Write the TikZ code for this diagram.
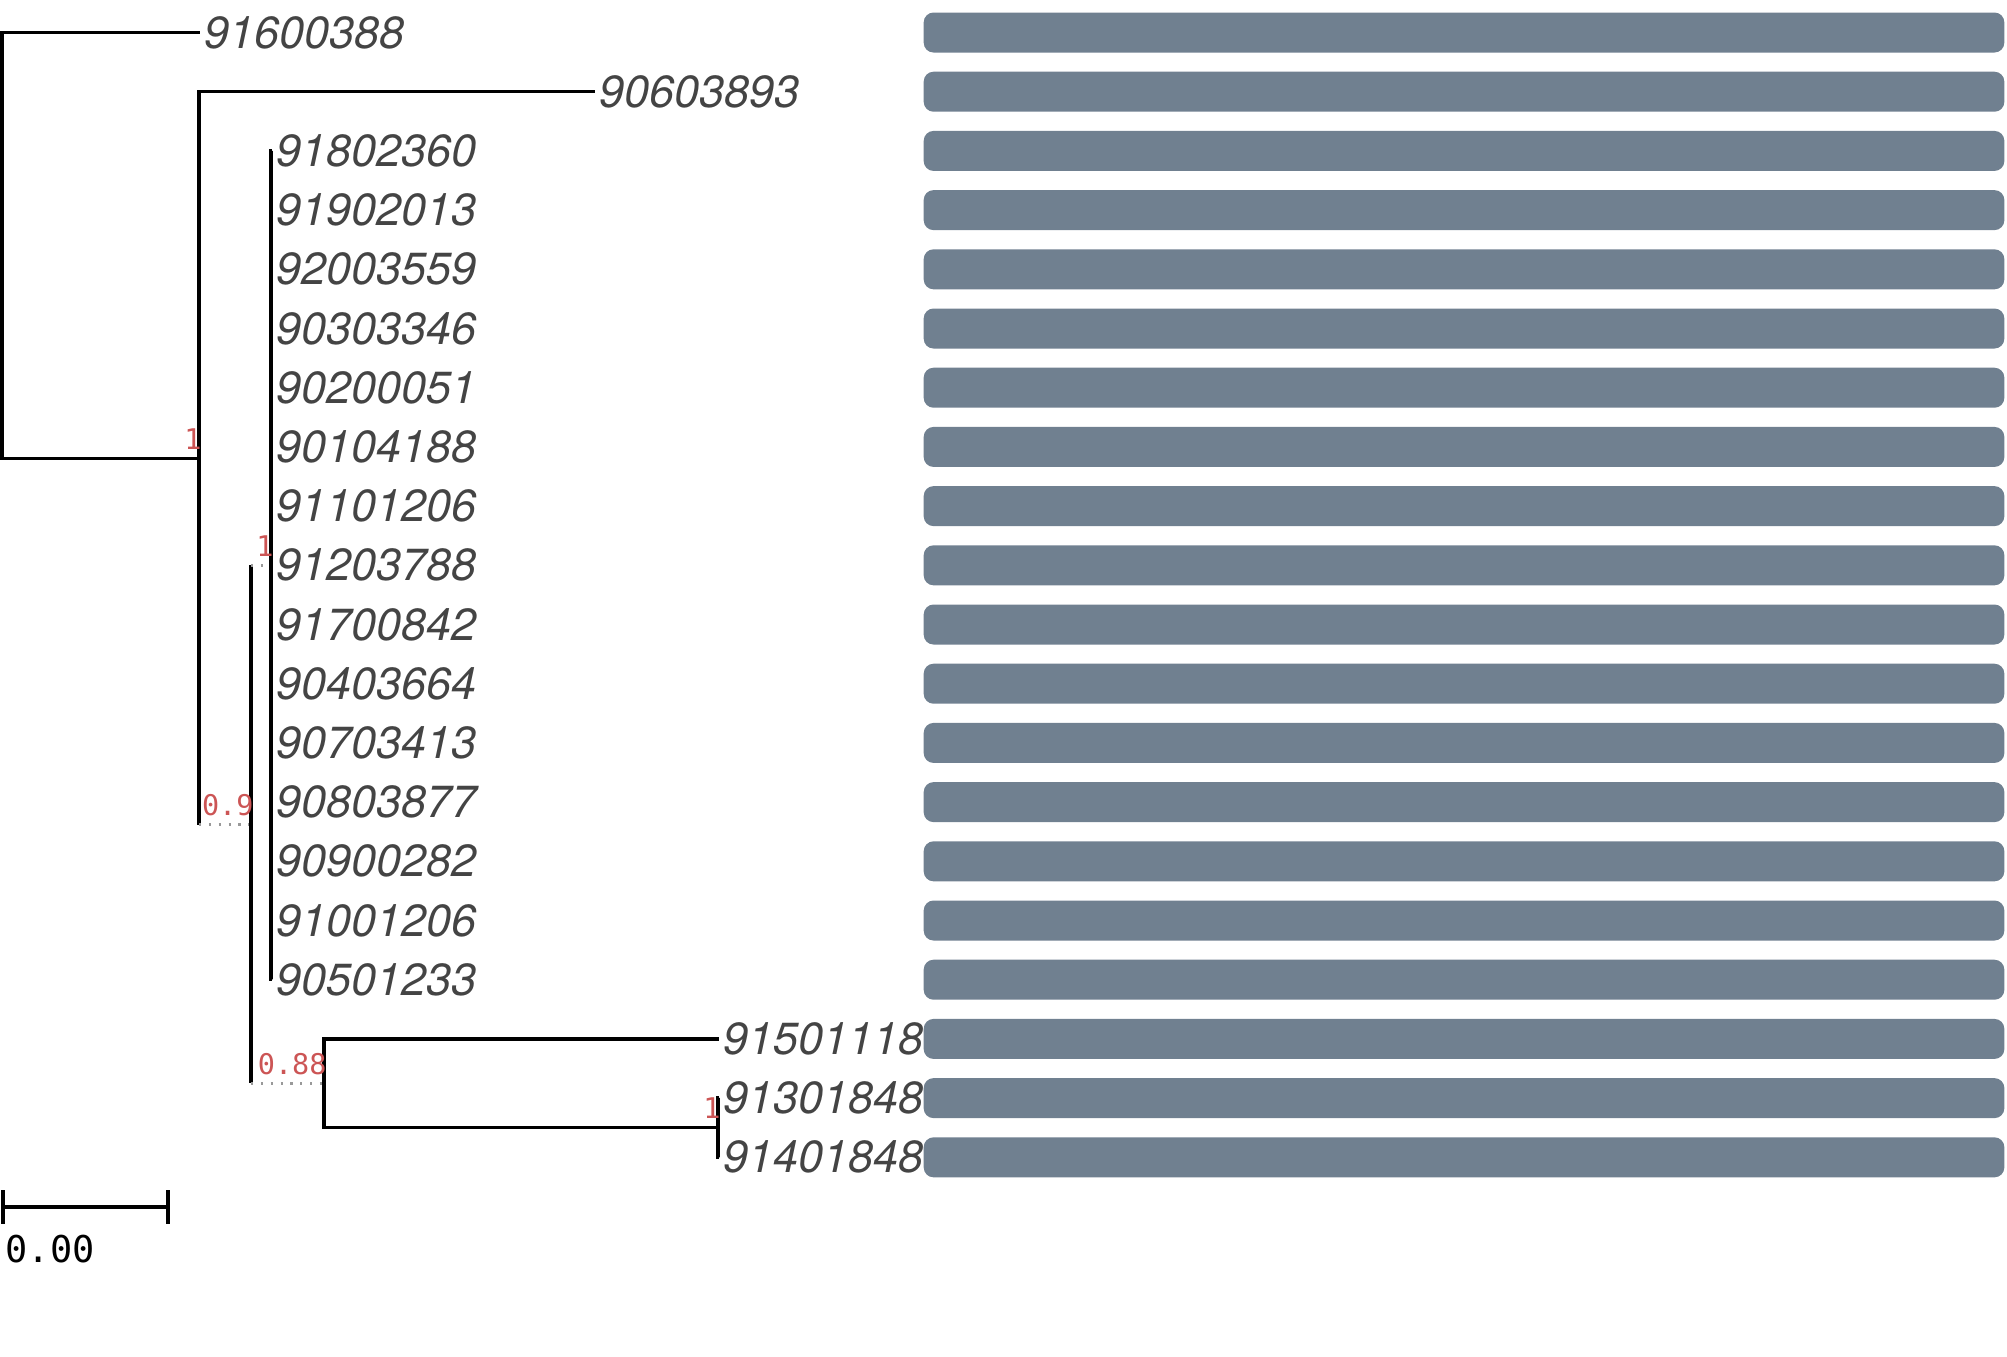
\documentclass[tikz,border=0pt]{standalone}
\usepackage{fontspec}
\setmainfont{TeX Gyre Heros}
\newfontfamily\supportfont{DejaVu Sans Mono}
\definecolor{leafgray}{HTML}{444444}
\definecolor{supportred}{HTML}{CC5555}
\definecolor{collapsedgray}{HTML}{999999}
\definecolor{barslate}{HTML}{708090}

\begin{document}
\begin{tikzpicture}[x=0.01cm,y=-0.01cm,
    branch/.style={line width=0.95pt},
    collapsed/.style={collapsedgray,line width=0.8pt,dash pattern=on 0.6pt off 2.2pt},
    leaf/.style={anchor=west,inner xsep=1pt,inner ysep=0pt,text=leafgray,font=\fontsize{12.8}{12.8}\selectfont\itshape},
    support/.style={anchor=south east,inner sep=0pt,xshift=0.9pt,yshift=2.3pt,text=supportred,font=\supportfont\fontsize{8.1}{8.1}\selectfont},
    seqbar/.style={fill=barslate,rounded corners=2.8pt,minimum width=10.8cm,minimum height=0.4cm,inner sep=0pt}]

    \useasboundingbox (0,0) rectangle (2007,1356);

    \foreach \r in {0,...,19}
        \node[seqbar] (bar\r) at (1464,{32.5+59.2*\r}) {};

    \coordinate (root) at (2,245.5);
    \coordinate (A) at (199,458.4);
    \coordinate (B) at (251,824.6);
    \coordinate (C) at (271,565.3);
    \coordinate (D) at (324,1083.3);
    \coordinate (E) at (718,1127.7);

    \node[leaf] (91600388) at (200,32.5) {91600388};
    \node[leaf] (90603893) at (595,91.7) {90603893};
    \foreach \n [count=\r from 2] in {91802360,91902013,92003559,90303346,90200051,90104188,91101206,91203788,91700842,90403664,90703413,90803877,90900282,91001206,90501233}
        \node[leaf] (\n) at (272,{32.5+59.2*\r}) {\n};
    \node[leaf] (91501118) at (719,1038.9) {91501118};
    \node[leaf] (91301848) at (719,1098.1) {91301848};
    \node[leaf] (91401848) at (719,1157.3) {91401848};

    \draw[branch] (root) |- (91600388.west) (root) |- (A);
    \draw[branch] (A) |- (90603893.west) (A) -- (A |- B);
    \draw[collapsed] (A |- B) -- (B);
    \draw[branch] (B |- C) -- (B |- D);
    \draw[collapsed] (B |- C) -- (C) (B |- D) -- (D);
    \foreach \n in {91802360,91902013,92003559,90303346,90200051,90104188,91101206,91203788,91700842,90403664,90703413,90803877,90900282,91001206,90501233}
        \draw[branch] (C) |- (\n.west);
    \draw[branch] (D) |- (91501118.west) (D) |- (E);
    \draw[branch] (E) |- (91301848.west) (E) |- (91401848.west);

    \node[support] (sA) at (A) {1};
    \node[support] (sB) at (B) {0.9};
    \node[support] (sC) at (C) {1};
    \node[support] (sD) at (D) {0.88};
    \node[support] (sE) at (E) {1};

    \coordinate (s0) at (3,1207);
    \coordinate (s1) at (168,1207);
    \draw[branch] (s0) -- (s1) (s0) ++(0,-17) -- ++(0,34) (s1) ++(0,-17) -- ++(0,34);
    \node[anchor=west,inner sep=0pt,font=\supportfont\fontsize{10.5}{10.5}\selectfont] (scale) at (5,1249) {0.00};
\end{tikzpicture}
\end{document}
